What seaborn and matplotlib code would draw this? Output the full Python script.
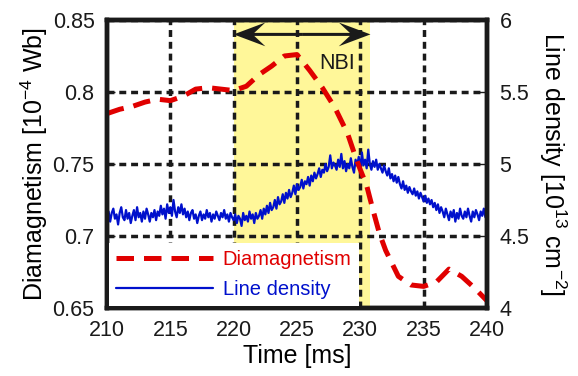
import numpy as np
import pandas as pd
import matplotlib
matplotlib.use("Agg")
import matplotlib.pyplot as plt
from matplotlib.lines import Line2D
from matplotlib.patches import FancyArrow
import seaborn as sns

# Diamagnetism (left axis, 1e-4 Wb)
dia_t = [210, 211, 212, 213, 214, 215, 216, 217, 218, 219, 220, 221, 222, 223, 224, 225,
         226, 227, 228, 229, 229.5, 230, 230.5, 231, 231.5, 232, 232.5, 233, 234, 235,
         236, 237, 238, 239, 240]
dia_v = [0.785, 0.788, 0.790, 0.793, 0.795, 0.794, 0.797, 0.802, 0.803, 0.802, 0.801, 0.804,
         0.812, 0.818, 0.825, 0.826, 0.815, 0.803, 0.789, 0.771, 0.758, 0.746, 0.735, 0.718,
         0.702, 0.690, 0.681, 0.672, 0.666, 0.665, 0.668, 0.677, 0.672, 0.664, 0.655]

# Line density (right axis, 1e13 cm^-2), sampled every 0.125 ms from 210 to 240
dens_t = [210 + 0.125 * i for i in range(241)]
dens_v = [
    4.61, 4.67, 4.60, 4.66, 4.69, 4.62, 4.65, 4.58, 4.66, 4.70, 4.63, 4.61, 4.68, 4.62, 4.66, 4.59,
    4.64, 4.68, 4.61, 4.70, 4.63, 4.66, 4.60, 4.67, 4.62, 4.69, 4.65, 4.60, 4.66, 4.63, 4.68, 4.61,
    4.67, 4.64, 4.71, 4.65, 4.69, 4.62, 4.72, 4.66, 4.70, 4.64, 4.75, 4.67, 4.63, 4.70, 4.66, 4.72,
    4.65, 4.69, 4.63, 4.67, 4.61, 4.66, 4.68, 4.62, 4.65, 4.59, 4.64, 4.67, 4.61, 4.65, 4.62, 4.68,
    4.63, 4.66, 4.60, 4.65, 4.62, 4.67, 4.64, 4.61, 4.66, 4.63, 4.68, 4.62, 4.65, 4.60, 4.66, 4.63,
    4.61, 4.65, 4.59, 4.64, 4.62, 4.57, 4.66, 4.61, 4.64, 4.60, 4.67, 4.62, 4.65, 4.59, 4.66, 4.62,
    4.64,
    4.68, 4.62, 4.69, 4.65, 4.71, 4.66, 4.73, 4.68, 4.70, 4.75, 4.69, 4.77, 4.72, 4.74, 4.79, 4.73,
    4.80, 4.76, 4.82, 4.77, 4.80, 4.85, 4.79, 4.86, 4.82, 4.84, 4.89, 4.83, 4.88, 4.86, 4.91, 4.85,
    4.92, 4.88, 4.94, 4.90, 4.93, 4.97, 4.91, 4.96, 4.94, 5.00, 4.95, 4.98, 5.06, 4.97, 5.01, 4.99,
    4.96, 5.03, 4.98, 5.07, 4.97, 5.02, 4.95, 5.00, 4.97, 5.04, 4.98, 4.94, 5.03, 4.99, 5.05, 4.96,
    5.08, 4.99, 5.03, 4.97, 5.10, 5.00, 4.96, 5.02,
    4.98, 5.03, 4.96, 5.00, 4.97, 4.94, 4.99, 4.95, 4.92, 4.97, 4.90, 4.93, 4.88, 4.92, 4.87, 4.91,
    4.86, 4.83, 4.88, 4.82, 4.85, 4.80, 4.84, 4.81, 4.79, 4.83, 4.78, 4.81, 4.76, 4.80, 4.77, 4.74,
    4.78, 4.73, 4.76, 4.72, 4.75, 4.70, 4.73, 4.68, 4.72, 4.66, 4.70, 4.67, 4.63, 4.69, 4.65, 4.61,
    4.67, 4.63, 4.68, 4.60, 4.66, 4.62, 4.69, 4.64,
    4.62, 4.67, 4.63, 4.69, 4.64, 4.60, 4.67, 4.63, 4.68, 4.65, 4.61, 4.67, 4.64, 4.69, 4.63, 4.66,
]

nbi_start, nbi_end = 220, 230.8
x_ticks = [210, 215, 220, 225, 230, 235, 240]
x_grid = [215, 220, 225, 230, 235]
left_ticks = [0.65, 0.7, 0.75, 0.8, 0.85]
left_labels = ["0.65", "0.7", "0.75", "0.8", "0.85"]
right_ticks = [4, 4.5, 5, 5.5, 6]
right_labels = ["4", "4.5", "5", "5.5", "6"]

RED = "#E00000"
BLUE = "#0010CC"
YELLOW = "#FFF799"

sns.set_theme(style="white")
plt.rcParams['font.family'] = ['Liberation Sans', 'DejaVu Sans']
plt.rcParams['mathtext.fontset'] = 'custom'
plt.rcParams['mathtext.rm'] = 'Liberation Sans'
plt.rcParams['mathtext.it'] = 'Liberation Sans'
plt.rcParams['text.color'] = 'black'
plt.rcParams['axes.labelcolor'] = 'black'
plt.rcParams['xtick.color'] = 'black'
plt.rcParams['ytick.color'] = 'black'

fig = plt.figure(figsize=(5.78, 3.76), dpi=100)
ax1 = fig.add_axes([107/578, 1 - 308/376, 380/578, 288/376])
ax2 = ax1.twinx()
ax1.set_zorder(2)
ax1.patch.set_visible(False)
ax2.set_zorder(1)

df_d = pd.DataFrame({"t": dens_t, "v": dens_v})
df_m = pd.DataFrame({"t": dia_t, "v": dia_v})

grid_kw = dict(color="k", linestyle=(0, (2, 1.4)), lw=2.5)

# back axis: yellow span, grid, density
ax2.axvspan(nbi_start, nbi_end, color=YELLOW, lw=0, zorder=0)
for gx in x_grid:
    ax2.axvline(gx, zorder=0.5, **grid_kw)
sns.lineplot(data=df_d, x="t", y="v", ax=ax2, color=BLUE, lw=1.6, legend=False)
ax2.set_ylim(4, 6)
ax2.set_yticks(right_ticks)
ax2.set_yticklabels(right_labels)
ax2.yaxis.grid(True, zorder=0.5, **grid_kw)
ax2.set_axisbelow(True)
ax2.set_ylabel("Line density [10$^{13}$ cm$^{-2}$]", fontsize=18, rotation=270, labelpad=28)

# front axis: diamagnetism
sns.lineplot(data=df_m, x="t", y="v", ax=ax1, color=RED, lw=3.6, legend=False)
ax1.lines[-1].set_dashes((3.5, 2))
ax1.set_xlim(210, 240)
ax1.set_ylim(0.65, 0.85)
ax1.set_xticks(x_ticks)
ax1.set_xticklabels([str(v) for v in x_ticks])
ax1.set_yticks(left_ticks)
ax1.set_yticklabels(left_labels)
ax1.set_xlabel("Time [ms]", fontsize=18, labelpad=2)
ax1.set_ylabel("Diamagnetism [10$^{-4}$ Wb]", fontsize=18, labelpad=2)

for ax in (ax1, ax2):
    ax.tick_params(labelsize=15.5, direction="in", length=6, width=1, colors="k", pad=9)
    for s in ax.spines.values():
        s.set_linewidth(3.2)
        s.set_color("k")

# NBI double arrow (two half-arrows with swept-back heads)
mid = (nbi_start + nbi_end) / 2
for end in (nbi_start, nbi_end):
    ax1.add_patch(FancyArrow(mid, 0.84, end - mid, 0, width=0.0021, head_width=0.0165,
                             head_length=2.5, overhang=0.35, length_includes_head=True,
                             color="k", lw=0, zorder=5))
ax1.text(228.2, 0.8195, "NBI", fontsize=15.5, ha="center", va="center", color="k")

handles = [Line2D([], [], color=RED, lw=3.6, dashes=(3.5, 2)),
           Line2D([], [], color=BLUE, lw=1.6)]
leg = ax1.legend(handles, ["Diamagnetism", "Line density"], loc="lower left",
                 bbox_to_anchor=(0.0, 0.0), fontsize=14.5, frameon=True, framealpha=1,
                 facecolor="white", edgecolor="none", fancybox=False, handlelength=4.8,
                 borderpad=0.35, labelspacing=0.55, handletextpad=0.5, borderaxespad=0.1)
for txt, c in zip(leg.get_texts(), [RED, BLUE]):
    txt.set_color(c)

fig.savefig("out.png", dpi=100)
